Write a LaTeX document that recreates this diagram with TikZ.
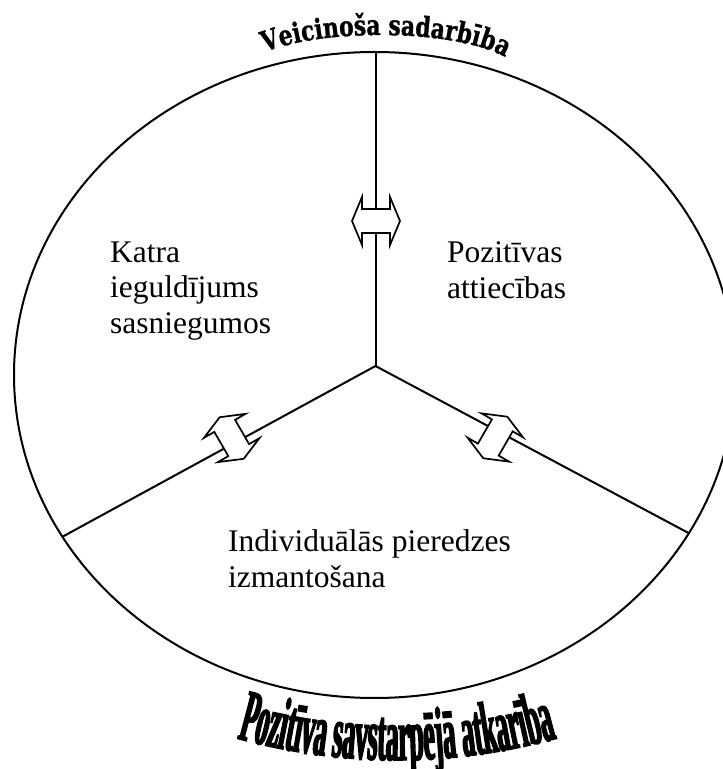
\documentclass[tikz,border=0pt]{standalone}
\usepackage{fontspec}
\usetikzlibrary{decorations.text}
\setmainfont{Liberation Serif}
\newfontfamily\archfont[FakeStretch=0.78,FakeBold=1]{DejaVu Serif}
\newfontfamily\cupfont[FakeStretch=0.35,FakeBold=2]{Liberation Serif}
\newcommand\archstyle{\archfont\bfseries\fontsize{28}{28}\selectfont}
\newcommand\cupstyle{\cupfont\bfseries\fontsize{74}{74}\selectfont}

\tikzset{
  rim/.style={line width=2pt},
  spoke/.style={line width=2pt},
  arrowline/.style={line width=1.7pt, fill=white, line join=miter},
  sectortext/.style={inner sep=0pt, align=left, font=\fontsize{31.5}{35.5}\selectfont},
  swaparrow/.pic={
    \draw[arrowline] (-24,0) -- (-14,24) -- (-14,12) -- (14,12) -- (14,24)
      -- (24,0) -- (14,-24) -- (14,-12) -- (-14,-12) -- (-14,-24) -- cycle;
  }
}

\begin{document}
\begin{tikzpicture}[x=1pt,y=1pt]
  \useasboundingbox (0,0) rectangle (723,769);
  \fill[white] (0,0) rectangle (723,769);
  \clip (0,0) rectangle (723,769);

  % outer ellipse
  \draw[rim] (374.5,394) ellipse [x radius=360.5pt, y radius=323pt];

  % three spokes from the hub to the rim
  \coordinate (hub) at (375.5,403);
  \coordinate (topend) at (375.5,717);
  \coordinate (leftend) at (62,232);
  \coordinate (rightend) at (688.5,236);
  \draw[spoke] (hub) -- (topend);
  \draw[spoke] (hub) -- (leftend);
  \draw[spoke] (hub) -- (rightend);

  % two-way arrows across the spokes
  \pic at (376,548) {swaparrow};
  \pic[rotate=120] at (231.7,331) {swaparrow};
  \pic[rotate=60] at (495.3,331.5) {swaparrow};

  % sector texts
  \node[sectortext, anchor=north west] (katra) at (110,527.5)
    {Katra\\ieguldījums\\sasniegumos};
  \node[sectortext, anchor=north west] (pozit) at (447,527.5)
    {Pozitīvas\\attiecības};
  \node[sectortext, anchor=north west] (indiv) at (228,239.5)
    {Individuālās pieredzes\\izmantošana};

  % arched title over the top
  \coordinate (archstart) at (256.4,712.8);
  \path[decorate, decoration={text along path, text align=center,
      text={|\archstyle|Veicinoša sadarbība}}]
    (archstart) arc[start angle=152, end angle=18, x radius=140pt, y radius=40pt];

  % curved title under the bottom
  \coordinate (cupstart) at (231.6,32.2);
  \path[decorate, decoration={text along path, text align=center,
      text={|\cupstyle|Pozitīva savstarpējā atkarība}}]
    (cupstart) arc[start angle=254, end angle=286, radius=600pt];
\end{tikzpicture}
\end{document}
